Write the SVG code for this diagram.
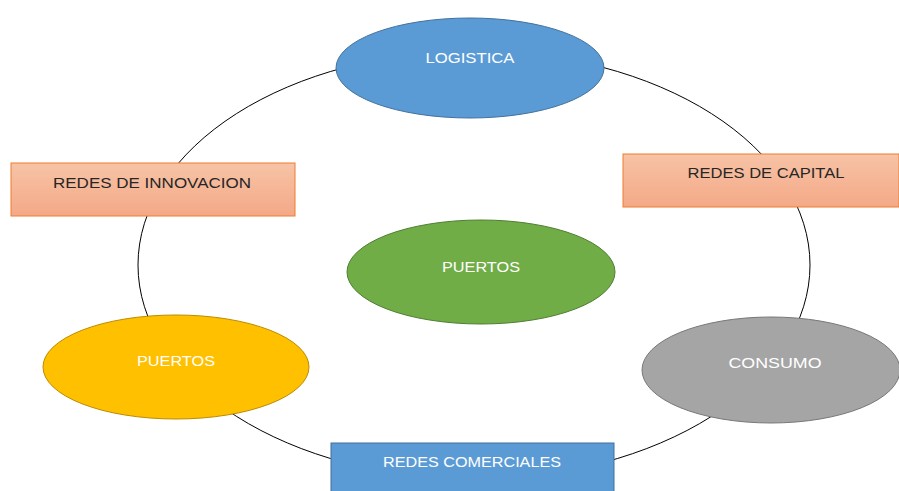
<svg xmlns="http://www.w3.org/2000/svg" width="899" height="491" viewBox="0 0 899 491">
<style>
text{font-family:"Liberation Sans",Arial,sans-serif;font-size:15px;text-anchor:middle}
.w{fill:#ffffff}
.d{fill:#262626}
.orange{fill:url(#og);stroke:#ED7D31;stroke-width:1}
</style>
<defs>
<linearGradient id="og" x1="0" y1="0" x2="0" y2="1">
<stop offset="0" stop-color="#F7C3A6"/>
<stop offset="1" stop-color="#F4A987"/>
</linearGradient>
</defs>
<g id="connectors">
<ellipse cx="474" cy="265" rx="336" ry="214" fill="none" stroke="#000000" stroke-width="1"/>
</g>
<g id="logistica">
<ellipse cx="470" cy="68" rx="134" ry="50" fill="#5B9BD5" stroke="#41719C" stroke-width="1"/>
<text class="w" x="470" y="63" textLength="89" lengthAdjust="spacingAndGlyphs">LOGISTICA</text>
</g>
<g id="redes-innovacion">
<rect class="orange" x="11" y="163" width="284" height="53"/>
<text class="d" x="152" y="188" textLength="198" lengthAdjust="spacingAndGlyphs">REDES DE INNOVACION</text>
</g>
<g id="redes-capital">
<rect class="orange" x="623" y="154" width="276" height="53"/>
<text class="d" x="766" y="178" textLength="157" lengthAdjust="spacingAndGlyphs">REDES DE CAPITAL</text>
</g>
<g id="puertos-centro">
<ellipse cx="481" cy="272" rx="134" ry="52" fill="#70AD47" stroke="#507E32" stroke-width="1"/>
<text class="w" x="481" y="272" textLength="78" lengthAdjust="spacingAndGlyphs">PUERTOS</text>
</g>
<g id="puertos">
<ellipse cx="176" cy="367" rx="133" ry="52" fill="#FFC000" stroke="#BC8C00" stroke-width="1"/>
<text class="w" x="176" y="366" textLength="78" lengthAdjust="spacingAndGlyphs">PUERTOS</text>
</g>
<g id="consumo">
<ellipse cx="771" cy="370" rx="129" ry="53" fill="#A5A5A5" stroke="#787878" stroke-width="1"/>
<text class="w" x="775" y="368" textLength="93" lengthAdjust="spacingAndGlyphs">CONSUMO</text>
</g>
<g id="redes-comerciales">
<rect x="331" y="443" width="283" height="52" fill="#5B9BD5" stroke="#41719C" stroke-width="1"/>
<text class="w" x="472" y="467" textLength="178" lengthAdjust="spacingAndGlyphs">REDES COMERCIALES</text>
</g>
</svg>
